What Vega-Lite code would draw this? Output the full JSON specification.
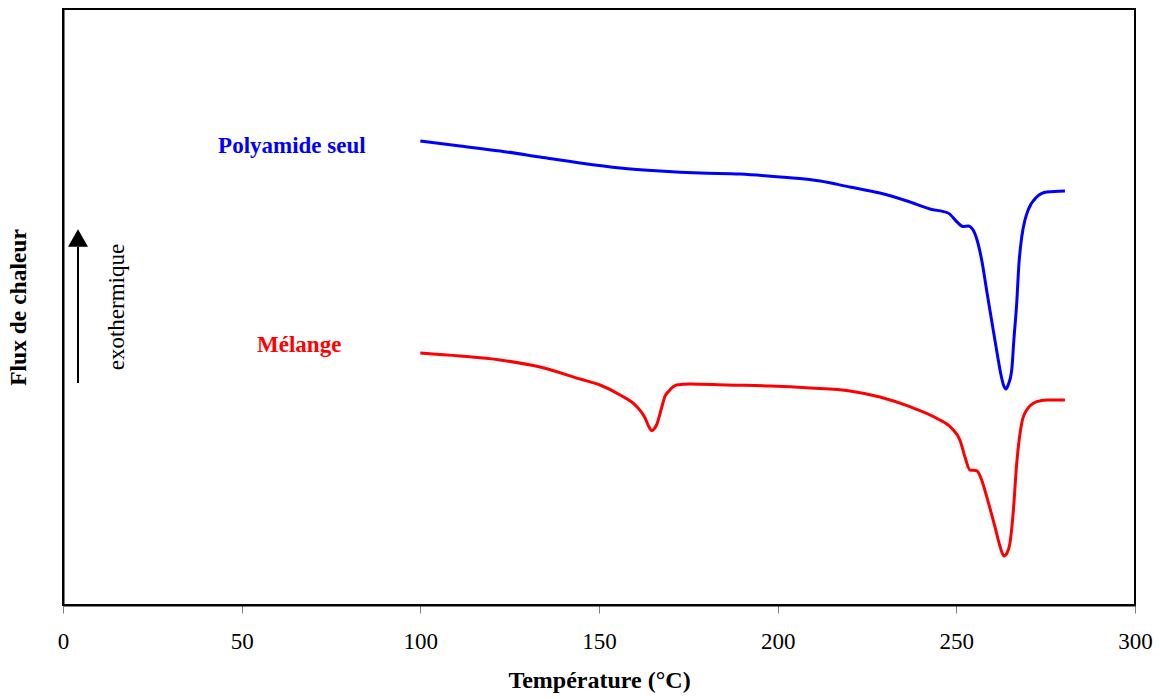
{
  "$schema": "https://vega.github.io/schema/vega-lite/v6.json",
  "width": 1072,
  "height": 596,
  "autosize": "none",
  "padding": {"left": 63, "top": 9, "right": 25, "bottom": 94},
  "background": "white",
  "config": {
    "font": "Liberation Serif",
    "view": {"stroke": "black", "strokeWidth": 2}
  },
  "datasets": {
    "curves": [
      {"serie": "Polyamide seul", "t": 100.0, "flux": 464},
      {"serie": "Polyamide seul", "t": 111.1, "flux": 459},
      {"serie": "Polyamide seul", "t": 122.3, "flux": 454},
      {"serie": "Polyamide seul", "t": 133.5, "flux": 448},
      {"serie": "Polyamide seul", "t": 144.7, "flux": 442},
      {"serie": "Polyamide seul", "t": 155.9, "flux": 437},
      {"serie": "Polyamide seul", "t": 167.1, "flux": 434},
      {"serie": "Polyamide seul", "t": 178.3, "flux": 432},
      {"serie": "Polyamide seul", "t": 189.5, "flux": 431},
      {"serie": "Polyamide seul", "t": 200.7, "flux": 428},
      {"serie": "Polyamide seul", "t": 211.9, "flux": 424},
      {"serie": "Polyamide seul", "t": 220.2, "flux": 418},
      {"serie": "Polyamide seul", "t": 228.6, "flux": 412},
      {"serie": "Polyamide seul", "t": 236.2, "flux": 404},
      {"serie": "Polyamide seul", "t": 242.6, "flux": 396},
      {"serie": "Polyamide seul", "t": 247.7, "flux": 392},
      {"serie": "Polyamide seul", "t": 250.2, "flux": 383},
      {"serie": "Polyamide seul", "t": 251.9, "flux": 378.5},
      {"serie": "Polyamide seul", "t": 253.3, "flux": 379},
      {"serie": "Polyamide seul", "t": 254.7, "flux": 375},
      {"serie": "Polyamide seul", "t": 255.8, "flux": 365},
      {"serie": "Polyamide seul", "t": 257.2, "flux": 343},
      {"serie": "Polyamide seul", "t": 258.6, "flux": 312},
      {"serie": "Polyamide seul", "t": 260.0, "flux": 282},
      {"serie": "Polyamide seul", "t": 261.4, "flux": 252},
      {"serie": "Polyamide seul", "t": 262.5, "flux": 230},
      {"serie": "Polyamide seul", "t": 263.3, "flux": 219},
      {"serie": "Polyamide seul", "t": 263.9, "flux": 216},
      {"serie": "Polyamide seul", "t": 264.5, "flux": 220},
      {"serie": "Polyamide seul", "t": 265.5, "flux": 235},
      {"serie": "Polyamide seul", "t": 266.1, "flux": 265},
      {"serie": "Polyamide seul", "t": 266.9, "flux": 302},
      {"serie": "Polyamide seul", "t": 267.5, "flux": 340},
      {"serie": "Polyamide seul", "t": 268.3, "flux": 368},
      {"serie": "Polyamide seul", "t": 269.2, "flux": 385},
      {"serie": "Polyamide seul", "t": 270.1, "flux": 395},
      {"serie": "Polyamide seul", "t": 272.5, "flux": 408},
      {"serie": "Polyamide seul", "t": 275.3, "flux": 413},
      {"serie": "Polyamide seul", "t": 280.4, "flux": 414},
      {"serie": "Mélange", "t": 100.0, "flux": 252},
      {"serie": "Mélange", "t": 111.1, "flux": 249},
      {"serie": "Mélange", "t": 122.3, "flux": 245},
      {"serie": "Mélange", "t": 133.5, "flux": 238},
      {"serie": "Mélange", "t": 144.7, "flux": 226},
      {"serie": "Mélange", "t": 150.3, "flux": 220},
      {"serie": "Mélange", "t": 155.9, "flux": 210},
      {"serie": "Mélange", "t": 160.6, "flux": 198.3},
      {"serie": "Mélange", "t": 162.9, "flux": 187},
      {"serie": "Mélange", "t": 164.0, "flux": 178},
      {"serie": "Mélange", "t": 164.7, "flux": 174.3},
      {"serie": "Mélange", "t": 165.4, "flux": 176},
      {"serie": "Mélange", "t": 166.1, "flux": 180},
      {"serie": "Mélange", "t": 167.6, "flux": 198.3},
      {"serie": "Mélange", "t": 168.5, "flux": 209},
      {"serie": "Mélange", "t": 169.4, "flux": 213.3},
      {"serie": "Mélange", "t": 171.7, "flux": 220},
      {"serie": "Mélange", "t": 175.5, "flux": 221},
      {"serie": "Mélange", "t": 185.7, "flux": 220},
      {"serie": "Mélange", "t": 197.9, "flux": 219},
      {"serie": "Mélange", "t": 209.1, "flux": 217},
      {"serie": "Mélange", "t": 220.2, "flux": 214},
      {"serie": "Mélange", "t": 228.6, "flux": 208},
      {"serie": "Mélange", "t": 237.0, "flux": 198.3},
      {"serie": "Mélange", "t": 244.5, "flux": 186.7},
      {"serie": "Mélange", "t": 248.7, "flux": 176.7},
      {"serie": "Mélange", "t": 251.0, "flux": 165},
      {"serie": "Mélange", "t": 252.4, "flux": 148.3},
      {"serie": "Mélange", "t": 253.8, "flux": 135},
      {"serie": "Mélange", "t": 255.7, "flux": 134.3},
      {"serie": "Mélange", "t": 257.1, "flux": 125},
      {"serie": "Mélange", "t": 258.5, "flux": 108.3},
      {"serie": "Mélange", "t": 260.8, "flux": 78.3},
      {"serie": "Mélange", "t": 262.2, "flux": 59},
      {"serie": "Mélange", "t": 263.3, "flux": 49},
      {"serie": "Mélange", "t": 264.2, "flux": 52},
      {"serie": "Mélange", "t": 265.0, "flux": 61.7},
      {"serie": "Mélange", "t": 265.9, "flux": 91.7},
      {"serie": "Mélange", "t": 266.9, "flux": 141.7},
      {"serie": "Mélange", "t": 268.3, "flux": 181.7},
      {"serie": "Mélange", "t": 269.7, "flux": 195},
      {"serie": "Mélange", "t": 272.5, "flux": 203.3},
      {"serie": "Mélange", "t": 275.3, "flux": 205},
      {"serie": "Mélange", "t": 280.4, "flux": 205}
    ],
    "labels": [
      {"serie": "Polyamide seul", "t": 43.4, "flux": 459},
      {"serie": "Mélange", "t": 54.3, "flux": 260}
    ],
    "arrow": [
      {"t": 4.2, "y1": 222, "y2": 358, "tip": 367}
    ],
    "note": [
      {"t": 15.1, "flux": 298, "label": "exothermique"}
    ]
  },
  "layer": [
    {
      "data": {"name": "curves"},
      "mark": {"type": "line", "strokeWidth": 3, "interpolate": "monotone"},
      "encoding": {
        "x": {
          "field": "t", "type": "quantitative",
          "scale": {"domain": [0, 300], "nice": false},
          "axis": {
            "title": "Température (°C)",
            "values": [0, 50, 100, 150, 200, 250, 300],
            "grid": false,
            "labelFlush": false,
            "domainColor": "black", "domainWidth": 2,
            "tickColor": "#808080", "tickSize": 8, "tickWidth": 1,
            "labelFont": "Liberation Serif", "labelFontSize": 23, "labelColor": "black",
            "labelPadding": 17,
            "titleFont": "Liberation Serif", "titleFontSize": 24, "titleFontWeight": "bold",
            "titleColor": "black", "titlePadding": 15
          }
        },
        "y": {
          "field": "flux", "type": "quantitative",
          "scale": {"domain": [0, 596], "nice": false, "zero": false},
          "axis": {
            "title": "Flux de chaleur",
            "labels": false, "ticks": false, "grid": false,
            "domainColor": "black", "domainWidth": 2,
            "titleFont": "Liberation Serif", "titleFontSize": 23.5, "titleFontWeight": "bold",
            "titleColor": "black", "titleX": -45, "titleY": 298, "titleAngle": 270,
            "titleBaseline": "middle", "titleAlign": "center"
          }
        },
        "color": {
          "field": "serie", "type": "nominal",
          "scale": {"domain": ["Polyamide seul", "Mélange"], "range": ["#0000FF", "#FF0000"]},
          "legend": null
        },
        "detail": {"field": "serie"}
      }
    },
    {
      "data": {"name": "labels"},
      "mark": {"type": "text", "font": "Liberation Serif", "fontSize": 23, "fontWeight": "bold", "align": "left", "baseline": "middle"},
      "encoding": {
        "x": {"field": "t", "type": "quantitative"},
        "y": {"field": "flux", "type": "quantitative"},
        "text": {"field": "serie"},
        "color": {"field": "serie", "type": "nominal", "legend": null}
      }
    },
    {
      "data": {"name": "arrow"},
      "mark": {"type": "rule", "color": "black", "strokeWidth": 2},
      "encoding": {
        "x": {"field": "t", "type": "quantitative"},
        "y": {"field": "y1", "type": "quantitative"},
        "y2": {"field": "y2"}
      }
    },
    {
      "data": {"name": "arrow"},
      "mark": {"type": "point", "shape": "triangle-up", "size": 400, "filled": true, "color": "black", "opacity": 1},
      "encoding": {
        "x": {"field": "t", "type": "quantitative"},
        "y": {"field": "tip", "type": "quantitative"}
      }
    },
    {
      "data": {"name": "note"},
      "mark": {"type": "text", "font": "Liberation Serif", "fontSize": 23, "angle": 270, "align": "center", "baseline": "middle", "color": "black"},
      "encoding": {
        "x": {"field": "t", "type": "quantitative"},
        "y": {"field": "flux", "type": "quantitative"},
        "text": {"field": "label"}
      }
    }
  ]
}
